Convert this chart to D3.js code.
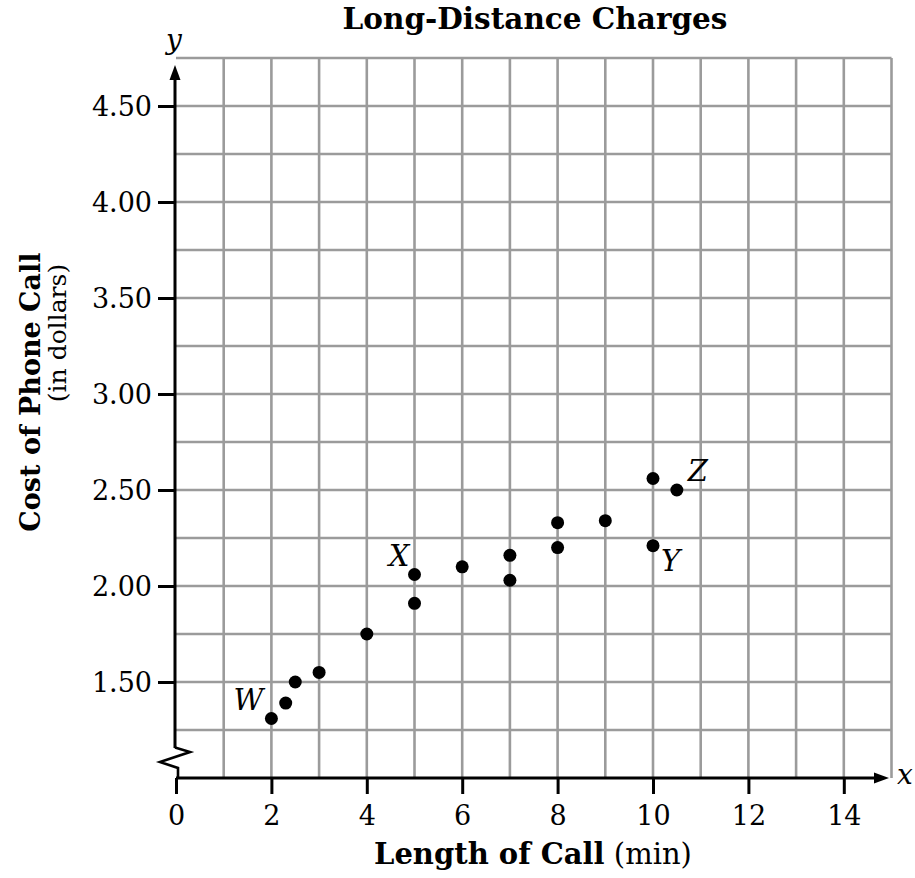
<!DOCTYPE html>
<html>
<head>
<meta charset="utf-8">
<script src="https://cdn.jsdelivr.net/npm/d3@7"></script>
<style>
  body { margin: 0; background: #fff; }
  svg { display: block; }
</style>
</head>
<body>
<svg id="chart" width="915" height="878"></svg>
<script>
// ---- Data ----
const lengthMin = [2, 2.3, 2.5, 3, 4, 5, 5, 6, 7, 7, 8, 8, 9, 10, 10, 10.5];
const costDollars = [1.31, 1.39, 1.50, 1.55, 1.75, 2.06, 1.91, 2.10, 2.16, 2.03, 2.33, 2.20, 2.34, 2.56, 2.21, 2.50];
const pointLabels = ["W", "", "", "", "", "X", "", "", "", "", "", "", "", "", "Y", "Z"];
const xTickValues = [0, 2, 4, 6, 8, 10, 12, 14];
const yTickValues = [1.50, 2.00, 2.50, 3.00, 3.50, 4.00, 4.50];
const chartTitle = "Long-Distance Charges";
const xTitleBold = "Length of Call";
const xTitleUnit = " (min)";
const yTitleBold = "Cost of Phone Call";
const yTitleUnit = "(in dollars)";

// ---- Layout ----
const FONT = "'DejaVu Serif', 'Liberation Serif', serif";
const GRID = "#9b9b9b";
const svg = d3.select("#chart");

const x = d3.scaleLinear().domain([0, 15]).range([176, 891.5]);
const y = d3.scaleLinear().domain([1.0, 4.75]).range([778, 58]);
const x0 = x(0), yA = y(1.0);

// grid: vertical lines
const g = svg.append("g");
g.selectAll("line.vg").data(d3.range(1, 16)).join("line")
  .attr("x1", d => x(d)).attr("x2", d => x(d))
  .attr("y1", y(4.75)).attr("y2", yA)
  .attr("stroke", GRID).attr("stroke-width", 2.6);
// grid: horizontal lines
g.selectAll("line.hg").data(d3.range(1.25, 4.76, 0.25)).join("line")
  .attr("x1", x0).attr("x2", x(15))
  .attr("y1", d => y(d)).attr("y2", d => y(d))
  .attr("stroke", GRID).attr("stroke-width", 2.6);

// y axis ticks and labels
const yAxis = d3.axisLeft(y).tickValues(yTickValues).tickFormat(d3.format(".2f"))
  .tickSize(18).tickPadding(6);
const yg = svg.append("g").attr("transform", `translate(${x0},0)`).call(yAxis);
yg.select(".domain").remove();
yg.selectAll(".tick line").attr("stroke", "#000").attr("stroke-width", 3);
yg.selectAll(".tick text").attr("font-family", FONT).attr("font-size", 27).attr("fill", "#000").attr("dy", "0.34em");

// x axis ticks and labels
const xAxis = d3.axisBottom(x).tickValues(xTickValues).tickFormat(d3.format("d"))
  .tickSize(16).tickPadding(12);
const xg = svg.append("g").attr("transform", `translate(0,${yA})`).call(xAxis);
xg.select(".domain").remove();
xg.selectAll(".tick line").attr("stroke", "#000").attr("stroke-width", 3);
xg.selectAll(".tick text").attr("font-family", FONT).attr("font-size", 27).attr("fill", "#000");

// y axis line with break
const yx = x0 - 1;
svg.append("line").attr("x1", yx).attr("x2", yx)
  .attr("y1", 74).attr("y2", yA - 30)
  .attr("stroke", "#000").attr("stroke-width", 3);
svg.append("path")
  .attr("d", d3.line()([[yx, yA - 30.5], [x0 + 14, yA - 26], [x0 - 16, yA - 16], [x0 + 2, yA - 10], [x0 + 2, yA]]))
  .attr("fill", "none").attr("stroke", "#000").attr("stroke-width", 2.6).attr("stroke-linejoin", "miter");
svg.append("path")
  .attr("d", `M${yx},65 L${yx - 5.5},80 L${yx + 5.5},80 Z`).attr("fill", "#000");

// x axis line
svg.append("line").attr("x1", x0).attr("x2", 878)
  .attr("y1", yA).attr("y2", yA)
  .attr("stroke", "#000").attr("stroke-width", 3.2);
svg.append("path")
  .attr("d", `M889,${yA} L874,${yA - 5.5} L874,${yA + 5.5} Z`).attr("fill", "#000");

// axis letters
svg.append("text").attr("x", 174).attr("y", 49).attr("text-anchor", "middle")
  .attr("font-family", FONT).attr("font-style", "italic").attr("font-size", 28).text("y");
svg.append("text").attr("x", 905).attr("y", 784).attr("text-anchor", "middle")
  .attr("font-family", FONT).attr("font-style", "italic").attr("font-size", 28).text("x");

// points
const pts = lengthMin.map((d, i) => ({ x: d, y: costDollars[i], label: pointLabels[i] }));
svg.selectAll("circle.pt").data(pts).join("circle")
  .attr("cx", d => x(d.x)).attr("cy", d => y(d.y)).attr("r", 6.5).attr("fill", "#000");

// point labels
const labelPlacement = {
  W: { dx: -8, dy: -8, anchor: "end" },
  X: { dx: -5, dy: -8, anchor: "end" },
  Y: { dx: 8, dy: 25, anchor: "start" },
  Z: { dx: 11, dy: -9, anchor: "start" }
};
svg.selectAll("text.pl").data(pts.filter(d => d.label)).join("text")
  .attr("x", d => x(d.x) + labelPlacement[d.label].dx)
  .attr("y", d => y(d.y) + labelPlacement[d.label].dy)
  .attr("text-anchor", d => labelPlacement[d.label].anchor)
  .attr("font-family", FONT).attr("font-style", "italic").attr("font-size", 29)
  .text(d => d.label);

// title
svg.append("text").attr("x", 535).attr("y", 29).attr("text-anchor", "middle")
  .attr("font-family", FONT).attr("font-weight", "bold").attr("font-size", 29.5).text(chartTitle);

// x title
const xt = svg.append("text").attr("x", 533).attr("y", 864).attr("text-anchor", "middle")
  .attr("font-family", FONT).attr("font-size", 29);
xt.append("tspan").attr("font-weight", "bold").text(xTitleBold);
xt.append("tspan").text(xTitleUnit);

// y titles
svg.append("text").attr("transform", "translate(40,392) rotate(-90)").attr("text-anchor", "middle")
  .attr("font-family", FONT).attr("font-weight", "bold").attr("font-size", 27).text(yTitleBold);
svg.append("text").attr("transform", "translate(66,333) rotate(-90)").attr("text-anchor", "middle")
  .attr("font-family", FONT).attr("font-size", 25).text(yTitleUnit);
</script>
</body>
</html>
